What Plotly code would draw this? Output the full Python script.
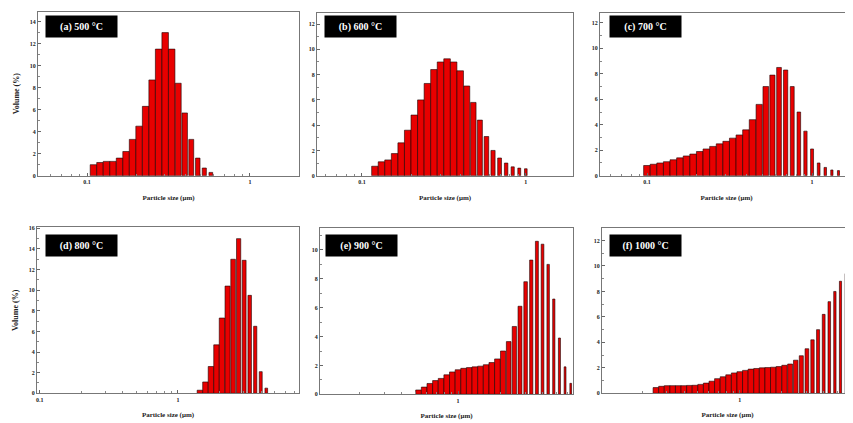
import math
import plotly.graph_objects as go

# Particle-size grid (µm), log-spaced channels
size_um = [0.1, 0.1096, 0.1202, 0.1318, 0.1445, 0.1585, 0.1738, 0.1905, 0.2089, 0.2291,
           0.2512, 0.2754, 0.3020, 0.3311, 0.3631, 0.3981, 0.4365, 0.4786, 0.5248, 0.5754,
           0.6310, 0.6918, 0.7586, 0.8318, 0.9120, 1.0, 1.0965, 1.2023, 1.3183, 1.4454,
           1.5849, 1.7378, 1.9055, 2.0893, 2.2909, 2.5119, 2.7542, 3.0200, 3.3113, 3.6308,
           3.9811, 4.3652, 4.7863, 5.2481, 5.7544, 6.3096]

size_a = size_um[1:20]
vol_a = [1.0, 1.2, 1.3, 1.3, 1.6, 2.2, 3.3, 4.5, 6.3, 8.7, 11.5, 13.0, 11.5, 8.4, 5.7, 3.3, 1.6, 0.7, 0.3]

size_b = size_um[2:26]
vol_b = [0.75, 1.1, 1.25, 1.75, 2.6, 3.6, 4.8, 6.0, 7.3, 8.4, 9.0, 9.25, 9.0, 8.3, 7.1, 5.8,
         4.4, 3.1, 2.0, 1.4, 1.0, 0.7, 0.6, 0.55]

size_c = size_um[0:30]
vol_c = [0.8, 0.9, 1.0, 1.1, 1.25, 1.4, 1.55, 1.7, 1.9, 2.1, 2.3, 2.5, 2.7, 2.95, 3.2, 3.6,
         4.4, 5.6, 7.0, 7.9, 8.5, 8.3, 7.0, 5.0, 3.5, 2.1, 1.0, 0.65, 0.45, 0.4]

size_d = size_um[29:42]
vol_d = [0.3, 1.1, 2.6, 4.7, 7.3, 10.4, 13.0, 15.0, 12.9, 9.5, 6.5, 2.1, 0.5]

size_e = size_um[18:46]
vol_e = [0.3, 0.5, 0.75, 0.95, 1.1, 1.35, 1.55, 1.7, 1.8, 1.85, 1.9, 1.95, 2.05, 2.2, 2.45,
         3.0, 3.65, 4.7, 6.1, 7.8, 9.3, 10.6, 10.4, 9.0, 6.6, 3.9, 1.9, 0.76]

size_f = size_um[10:46]
vol_f = [0.45, 0.55, 0.6, 0.6, 0.6, 0.6, 0.62, 0.63, 0.7, 0.8, 0.95, 1.15, 1.3, 1.45, 1.6,
         1.7, 1.8, 1.9, 1.95, 2.0, 2.02, 2.05, 2.1, 2.2, 2.3, 2.6, 2.95, 3.5, 4.2, 5.0, 6.2,
         7.2, 8.0, 8.8, 9.4, 9.7]

panel_labels = ["(a) 500 °C", "(b) 600 °C", "(c) 700 °C",
                "(d) 800 °C", "(e) 900 °C", "(f) 1000 °C"]
x_title = "Particle size (μm)"
y_title = "Volume (%)"

# the page body has an 8px margin; size the figure so it ends at the window edge
OFF = 8
W, H = 853 - OFF, 423 - OFF
SERIF = "Liberation Serif"


def fx(px):
    return (px - OFF) / W


def fy(py):
    return 1 - (py - OFF) / H


# pixel boxes (left, right), (top, bottom) in window px; x range (µm); y max; bar touch size
panels = [
    dict(s=size_a, v=vol_a, px=(38, 299), py=(11.7, 175.7), xr=(0.05, 2.0), ymax=14.9, touch=0.33, box=(81, 26)),
    dict(s=size_b, v=vol_b, px=(317, 573), py=(12.7, 175.7), xr=(0.0532, 1.94), ymax=12.9, touch=0.40, box=(360, 27)),
    dict(s=size_c, v=vol_c, px=(600, 853), py=(12.7, 175.7), xr=(0.0519, 1.77), ymax=12.8, touch=0.45, box=(645, 26)),
    dict(s=size_d, v=vol_d, px=(37, 299), py=(227.3, 393.3), xr=(0.0955, 7.53), ymax=16.1, touch=2.1, box=(81, 245)),
    dict(s=size_e, v=vol_e, px=(320, 573), py=(228.3, 394.3), xr=(0.1047, 6.55), ymax=11.5, touch=1.9, box=(361, 245)),
    dict(s=size_f, v=vol_f, px=(602, 853), py=(228.3, 393.3), xr=(0.1033, 6.45), ymax=12.96, touch=2.0, box=(645, 245)),
]

fig = go.Figure()
tickfont = dict(family=SERIF, size=6, color="#222", weight="bold")
for i, p in enumerate(panels, 1):
    sfx = "" if i == 1 else str(i)
    widths = [0.0921 * min(s, p["touch"]) for s in p["s"]]
    fig.add_trace(go.Bar(
        x=p["s"], y=p["v"], width=widths,
        xaxis="x" + sfx, yaxis="y" + sfx,
        marker=dict(color="#e80000", line=dict(color="#1a0000", width=0.6)),
        showlegend=False,
    ))
    fig.update_layout(**{
        "xaxis" + sfx: dict(
            type="log", domain=[fx(p["px"][0]), min(1.0, fx(p["px"][1]))],
            range=[math.log10(p["xr"][0]), math.log10(p["xr"][1])],
            anchor="y" + sfx, dtick=1, showline=True, mirror=True, automargin=False,
            linecolor="#777", linewidth=1, ticks="inside", ticklen=3, tickcolor="#666",
            minor=dict(ticks="inside", ticklen=2, tickcolor="#888"),
            showgrid=False, zeroline=False, tickfont=tickfont,
            title=dict(text=x_title, font=dict(family=SERIF, size=7, color="#222", weight="bold"),
                       standoff=11 if i <= 3 else 10),
        ),
        "yaxis" + sfx: dict(
            domain=[fy(p["py"][1]), min(1.0, fy(p["py"][0]))],
            range=[0, p["ymax"]], anchor="x" + sfx, dtick=2, automargin=False,
            showline=True, mirror=True, linecolor="#777", linewidth=1,
            ticks="inside", ticklen=3, tickcolor="#666",
            minor=dict(ticks="inside", ticklen=2, dtick=1, tickcolor="#888"),
            showgrid=False, zeroline=False, tickfont=tickfont,
            title=dict(text=y_title if i in (1, 4) else "",
                       font=dict(family=SERIF, size=8, color="#222", weight="bold"), standoff=8),
        ),
    })
    fig.add_annotation(
        x=fx(p["box"][0]), y=fy(p["box"][1]), xref="paper", yref="paper",
        text=panel_labels[i - 1], showarrow=False, bgcolor="#000",
        font=dict(family=SERIF, size=10, color="#fff", weight="bold"),
        width=63, height=13, borderpad=4, xanchor="center", yanchor="middle",
    )

fig.update_layout(
    width=W, height=H, margin=dict(l=0, r=0, t=0, b=0, autoexpand=False),
    paper_bgcolor="#fff", plot_bgcolor="#fff", barmode="overlay",
)
fig.write_html("out.html")
